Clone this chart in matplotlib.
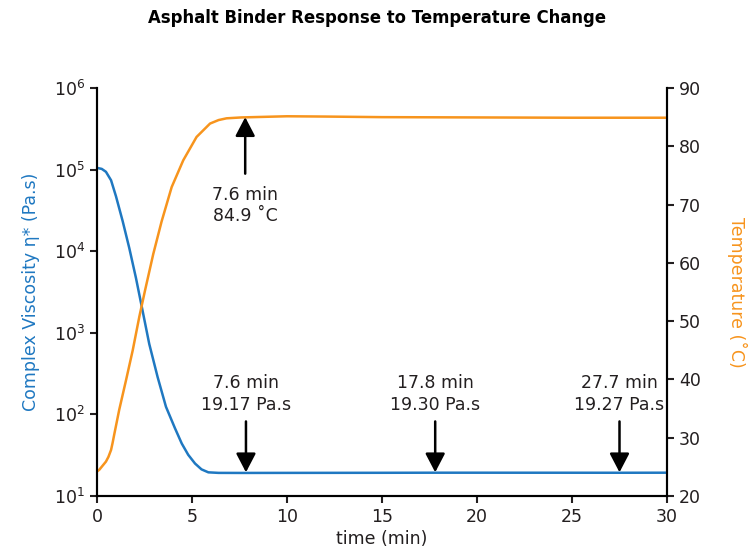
import matplotlib
matplotlib.use("Agg")
import matplotlib.pyplot as plt

plt.rcParams['font.family'] = ['DejaVu Sans']
plt.rcParams['mathtext.fontset'] = 'dejavusans'

# ---- data ----
visc_time = [0, 0.25, 0.47, 0.74, 1.0, 1.35, 1.7, 2.05, 2.32, 2.75, 3.19, 3.63, 4.1, 4.46, 4.8, 5.16, 5.5, 5.86, 6.4, 7.6, 10, 15, 17.8, 20, 25, 27.7, 30]
visc_vals = [1.05e5, 1.02e5, 9.4e4, 7.4e4, 4.7e4, 2.34e4, 1.09e4, 4.7e3, 2.3e3, 7.3e2, 2.87e2, 1.24e2, 68, 44, 32, 25, 21.2, 19.5, 19.2, 19.17, 19.2, 19.25, 19.30, 19.3, 19.28, 19.27, 19.3]

temp_time = [0, 0.12, 0.47, 0.6, 0.74, 0.82, 0.91, 1.17, 1.53, 1.88, 2.23, 2.53, 2.96, 3.4, 3.93, 4.54, 5.24, 5.95, 6.4, 6.82, 7.6, 10, 12, 15, 20, 25, 30]
temp_vals = [24.2, 24.5, 25.9, 26.7, 27.9, 29.1, 30.6, 34.8, 39.9, 45.0, 50.8, 55.3, 61.5, 67.1, 73.0, 77.6, 81.6, 83.9, 84.5, 84.8, 84.95, 85.15, 85.1, 85.0, 84.95, 84.9, 84.9]

down_arrow_x = [7.84, 17.8, 27.5]
down_labels = ["7.6 min\n19.17 Pa.s", "17.8 min\n19.30 Pa.s", "27.7 min\n19.27 Pa.s"]
up_arrow_x = 7.8
up_label = "7.6 min\n84.9 ˚C"

blue = '#1f78c1'
orange = '#f7941d'
txt = '#231f20'

fig = plt.figure(figsize=(7.55, 5.58), dpi=100)
ax = fig.add_axes([97/755, 1-496/558, (667-97)/755, (496-88)/558])
ax2 = ax.twinx()

ax.plot(visc_time, visc_vals, color=blue, lw=1.8, zorder=3, solid_joinstyle='round')
ax.set_yscale('log')
ax.set_ylim(10, 1e6)
ax.set_xlim(0, 30)
ax.set_xticks(range(0, 31, 5))
ax.yaxis.set_minor_locator(matplotlib.ticker.NullLocator())

ax2.plot(temp_time, temp_vals, color=orange, lw=1.8, solid_joinstyle='round')
ax2.set_ylim(20, 90)
ax2.set_yticks(range(20, 91, 10))

for a in (ax, ax2):
    a.spines['top'].set_visible(False)
    for s in ('left', 'right', 'bottom'):
        a.spines[s].set_linewidth(1.5)
        a.spines[s].set_color('black')
    a.tick_params(direction='out', width=1.5, length=5, labelsize=12.5, colors=txt)

ax.set_xlabel('time (min)', fontsize=12.5, labelpad=3, color=txt)
ax.set_ylabel('Complex Viscosity η* (Pa.s)', fontsize=12.5, color=blue, labelpad=10)
ax2.set_ylabel('Temperature (˚C)', fontsize=12.5, color=orange, rotation=270, labelpad=33)

title = fig.text(0.5, 1-18/558, 'Asphalt Binder Response to Temperature Change',
                 fontsize=12.5, fontweight='bold', ha='center', va='center', color='black')
fig.canvas.draw()
w = title.get_window_extent().width
title.set_fontsize(12.5 * 459.0 / w)

aprops = dict(arrowstyle='-|>,head_width=0.6,head_length=1.15', color='black', lw=1.8, shrinkA=0, shrinkB=0)
for xa, lab in zip(down_arrow_x, down_labels):
    ax.annotate('', xy=(xa, 19.5), xytext=(xa, 82), arrowprops=aprops)
    ax.text(xa, 178, lab, ha='center', va='center', fontsize=12.5, color=txt, linespacing=1.25)

ax2.annotate('', xy=(up_arrow_x, 85.0), xytext=(up_arrow_x, 75.3), arrowprops=aprops)
ax2.text(up_arrow_x, 69.8, up_label, ha='center', va='center', fontsize=12.5, color=txt, linespacing=1.25)

fig.savefig('out.png', dpi=100)
